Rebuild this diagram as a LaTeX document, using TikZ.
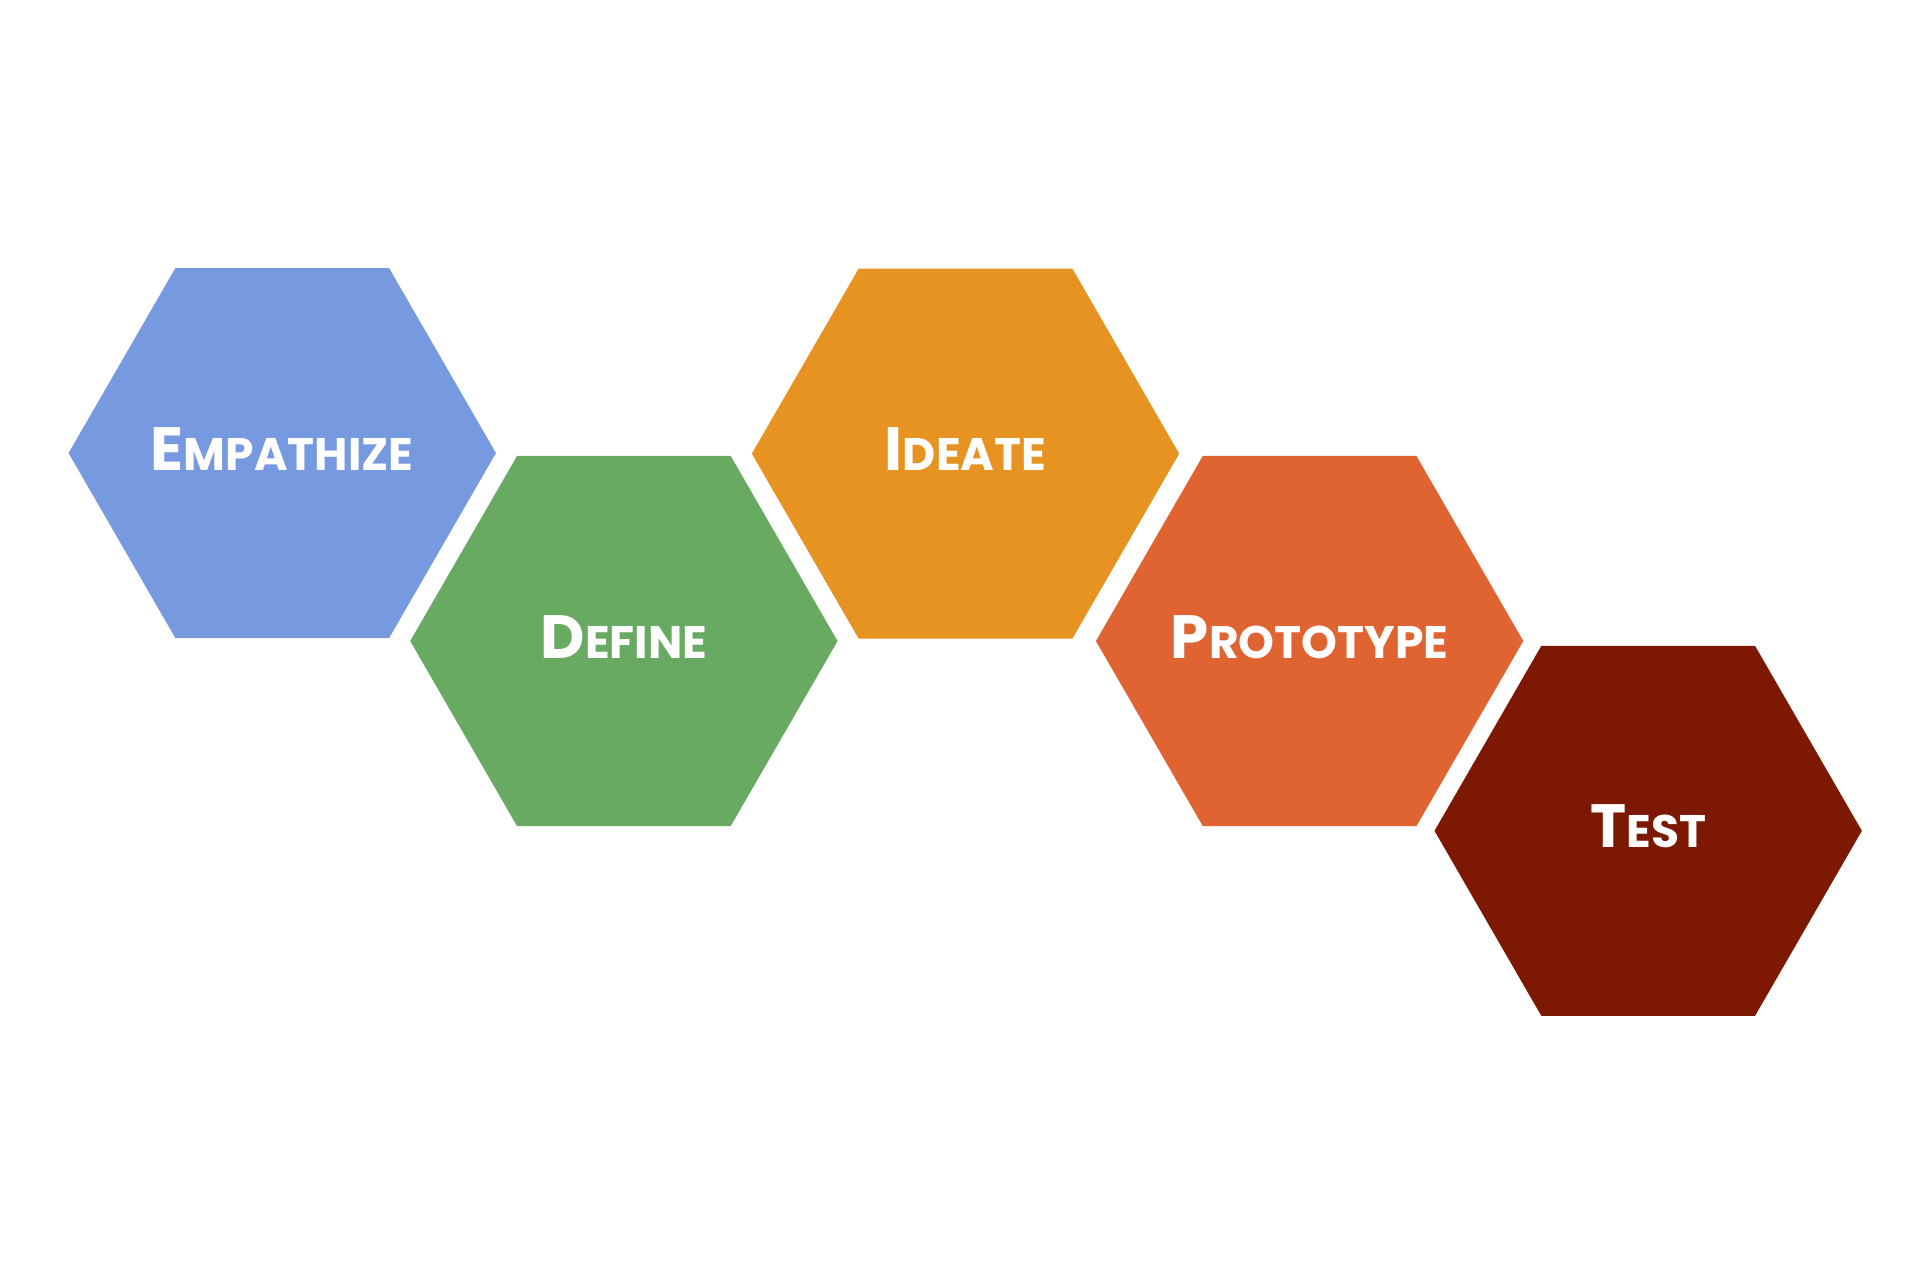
\documentclass[tikz,border=0pt]{standalone}
\usepackage{fontspec}
\setmainfont{Poppins}
\usepackage{tikz}
\usetikzlibrary{shapes.geometric}

\definecolor{empblue}{RGB}{119,153,223}
\definecolor{defgreen}{RGB}{104,170,98}
\definecolor{ideorange}{RGB}{230,147,33}
\definecolor{protored}{RGB}{224,99,50}
\definecolor{testbrown}{RGB}{125,25,2}

% big first letter, small caps for the rest
\newcommand{\phase}[2]{{\fontsize{14.2}{16}\selectfont #1}{\fontsize{10.6}{12}\selectfont #2}}

\tikzset{
  hexa/.style={regular polygon, regular polygon sides=6, minimum size=3.49cm, inner sep=0pt, draw=none},
  phaselabel/.style={anchor=base, text=white, font=\bfseries, inner sep=0pt}
}

\begin{document}
\begin{tikzpicture}
      \useasboundingbox (0,0) rectangle (15.68,10.453);
      \fill[white] (0,0) rectangle (15.68,10.453);

      % Hexagons
      \node[hexa, fill=empblue] (empathize) at (2.305,6.753) {};
      \node[hexa, fill=defgreen] (define) at (5.095,5.218) {};
      \node[hexa, fill=ideorange] (ideate) at (7.885,6.748) {};
      \node[hexa, fill=protored] (prototype) at (10.695,5.218) {};
      \node[hexa, fill=testbrown] (test) at (13.46,3.668) {};

      % Labels
      \node[phaselabel] (empathizetext) at ([yshift=-0.14cm]empathize.center) {\phase{E}{MPATHIZE}};
      \node[phaselabel] (definetext) at ([yshift=-0.14cm]define.center) {\phase{D}{EFINE}};
      \node[phaselabel] (ideatetext) at ([yshift=-0.14cm]ideate.center) {\phase{I}{DEATE}};
      \node[phaselabel] (prototypetext) at ([yshift=-0.14cm]prototype.center) {\phase{P}{ROTOTYPE}};
      \node[phaselabel] (testtext) at ([yshift=-0.14cm]test.center) {\phase{T}{EST}};
\end{tikzpicture}
\end{document}
